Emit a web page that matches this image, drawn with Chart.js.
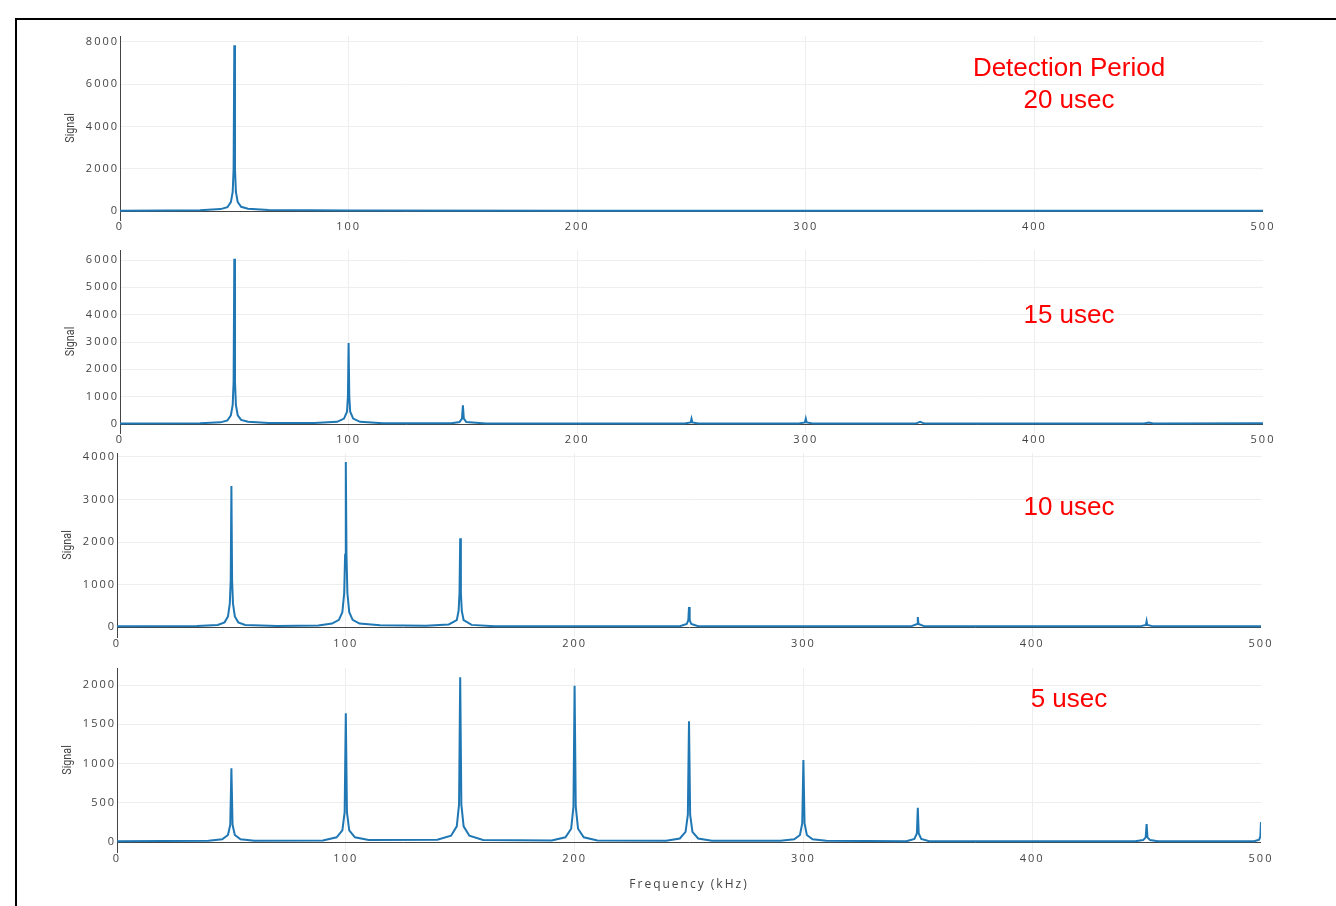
<!DOCTYPE html>
<html>
<head>
<meta charset="utf-8">
<script src="https://cdn.jsdelivr.net/npm/chart.js@4/dist/chart.umd.min.js"></script>
<style>
  body { margin: 0; background: #fff; width: 1336px; height: 906px; overflow: hidden; position: relative; }
  .frame { position: absolute; left: 15px; top: 18px; width: 1400px; height: 1000px; border-top: 2px solid #000; border-left: 2px solid #000; }
  canvas { position: absolute; }
  .note { position: absolute; left: 959px; width: 220px; text-align: center; color: #ff0000;
          font-family: "Liberation Sans", Arial, sans-serif; font-size: 26px; line-height: 32px; }
</style>
</head>
<body>
<div class="frame"></div>
<canvas id="p20"></canvas>
<canvas id="p15"></canvas>
<canvas id="p10"></canvas>
<canvas id="p5"></canvas>
<div class="note" style="top:51px">Detection Period<br>20 usec</div>
<div class="note" style="top:298px">15 usec</div>
<div class="note" style="top:490px">10 usec</div>
<div class="note" style="top:682px">5 usec</div>
<script>
// x axis ticks (kHz)
const freqTicks = [0, 100, 200, 300, 400, 500];

// Detection period 20 usec
const freq20 = [0, 20, 35, 44, 47, 48.5, 49.3, 49.7, 50, 50.3, 50.7, 51.5, 53, 56, 65, 100, 200, 300, 400, 500];
const sig20  = [15, 20, 40, 90, 180, 420, 900, 2000, 7850, 2000, 900, 420, 200, 110, 50, 25, 15, 15, 15, 15];
const ticks20 = [0, 2000, 4000, 6000, 8000];

// 15 usec
const freq15 = [0, 35, 44, 47, 48.5, 49.3, 49.7, 50, 50.3, 50.7, 51.5, 53, 56, 65, 85, 95, 98, 99.3, 99.7, 100, 100.3, 100.7, 102, 105, 115,
  145, 148.5, 149.6, 150, 150.4, 151.5, 160, 247, 249.6, 250, 250.4, 253, 297, 299.6, 300, 300.4, 303,
  348, 350, 352, 448, 450, 452, 500];
const sig15  = [20, 30, 60, 130, 320, 700, 1550, 6050, 1550, 700, 320, 150, 80, 40, 40, 80, 200, 450, 1000, 2960, 1000, 450, 200, 80, 30,
  30, 70, 200, 680, 200, 70, 20, 20, 60, 200, 60, 20, 20, 60, 200, 60, 20,
  15, 80, 15, 15, 50, 15, 25];
const ticks15 = [0, 1000, 2000, 3000, 4000, 5000, 6000];

// 10 usec
const freq10 = [0, 35, 44, 47, 48.5, 49.3, 49.7, 50, 50.3, 50.7, 51.5, 53, 56, 70, 88, 94, 97, 98.5, 99.3, 99.7, 100, 100.3, 100.7, 101.5, 103, 106, 115,
  135, 145, 148.5, 149.3, 149.7, 150, 150.3, 150.7, 151.5, 155, 165, 246, 249, 249.7, 250, 250.3, 251, 254,
  347, 349.7, 350, 350.3, 353, 447, 449.7, 450, 450.3, 453, 500];
const sig10  = [15, 25, 50, 110, 250, 550, 1100, 3320, 1100, 550, 250, 110, 50, 25, 35, 80, 170, 350, 800, 1700, 3880, 1700, 800, 350, 170, 80, 40,
  30, 60, 160, 380, 800, 2090, 800, 380, 160, 50, 20, 20, 70, 160, 470, 160, 70, 20,
  15, 70, 235, 70, 15, 15, 50, 140, 50, 15, 15];
const ticks10 = [0, 1000, 2000, 3000, 4000];

// 5 usec
const freq5 = [0, 40, 46, 48.5, 49.5, 50, 50.5, 51.5, 54, 60, 90, 96, 98.5, 99.5, 100, 100.5, 101.5, 104, 110,
  140, 146, 148.5, 149.5, 150, 150.5, 151.5, 154, 160, 190, 196, 198.5, 199.5, 200, 200.5, 201.5, 204, 210,
  240, 246, 248.5, 249.5, 250, 250.5, 251.5, 254, 260, 290, 296, 298.5, 299.5, 300, 300.5, 301.5, 304, 310,
  345, 348.5, 349.6, 350, 350.4, 351.5, 355, 445, 448.5, 449.6, 450, 450.4, 451.5, 455, 497, 499.2, 499.7, 500];
const sig5  = [10, 15, 35, 90, 220, 940, 220, 90, 35, 15, 20, 60, 150, 380, 1640, 380, 150, 60, 25,
  30, 80, 200, 480, 2100, 480, 200, 80, 25, 20, 60, 170, 450, 1990, 450, 170, 60, 20,
  15, 45, 130, 350, 1540, 350, 130, 45, 15, 15, 35, 90, 240, 1045, 240, 90, 35, 15,
  10, 40, 110, 435, 110, 40, 10, 10, 25, 60, 230, 60, 25, 10, 10, 30, 70, 255];
const ticks5 = [0, 500, 1000, 1500, 2000];

const tickFont = { family: "'Open Sans', 'DejaVu Sans', sans-serif", size: 11 };
const yAxisW = 57;

// wide spaced tick text like the original, plus a narrow rotated "Signal" label
const textStyle = {
  id: 'textStyle',
  beforeUpdate(chart) { chart.ctx.letterSpacing = '2px'; },
  beforeDraw(chart) { chart.ctx.letterSpacing = '2px'; },
  afterDraw(chart) {
    const ctx = chart.ctx, a = chart.chartArea, ys = chart.scales.y;
    ctx.save();
    ctx.letterSpacing = '0px';
    ctx.translate(ys.left + 8, (a.top + a.bottom) / 2);
    ctx.rotate(-Math.PI / 2);
    ctx.scale(0.83, 1);
    ctx.font = "13px Roboto, 'DejaVu Sans', sans-serif";
    ctx.fillStyle = '#444';
    ctx.textAlign = 'center';
    ctx.textBaseline = 'middle';
    ctx.fillText('Signal', 0, 0);
    ctx.restore();
  }
};

function makePanel(id, freq, sig, yTicks, box) {
  const xAxisH = box.xTitle ? 45 : 20;
  const left = box.plotLeft - yAxisW;
  const top = box.plotTop - 10;
  const w = box.plotRight + 30 - left;
  const h = box.plotBottom + xAxisH - top;
  const cv = document.getElementById(id);
  cv.width = w; cv.height = h;
  cv.style.left = left + 'px'; cv.style.top = top + 'px';
  cv.style.width = w + 'px'; cv.style.height = h + 'px';

  new Chart(cv, {
    type: 'line',
    data: {
      datasets: [{
        data: freq.map((f, i) => ({ x: f, y: sig[i] })),
        borderColor: '#1f77b4',
        borderWidth: 2,
        pointRadius: 0,
        tension: 0,
        fill: false
      }]
    },
    options: {
      responsive: false,
      animation: false,
      layout: { padding: { top: 10, right: 30, left: 0, bottom: 0 } },
      plugins: { legend: { display: false }, tooltip: { enabled: false } },
      scales: {
        x: {
          type: 'linear', min: 0, max: 500,
          afterBuildTicks: s => { s.ticks = freqTicks.map(v => ({ value: v })); },
          afterFit: s => { s.height = xAxisH; },
          border: { display: false },
          grid: {
            drawTicks: false,
            color: c => (c.tick.value === 0 || c.tick.value === 500) ? 'rgba(0,0,0,0)' : '#eeeeee'
          },
          ticks: { color: '#444', font: tickFont, padding: 0, maxRotation: 0, autoSkip: false,
                   callback: v => String(v) },
          title: {
            display: !!box.xTitle, text: 'Frequency (kHz)', color: '#444',
            font: { family: "'Open Sans', 'DejaVu Sans', sans-serif", size: 12 },
            padding: { top: 0, bottom: 5 }
          }
        },
        y: {
          min: box.yMin, max: box.yMax,
          afterBuildTicks: s => { s.ticks = yTicks.map(v => ({ value: v })); },
          afterFit: s => { s.width = yAxisW; },
          border: { display: true, color: '#444', width: 1 },
          grid: {
            drawTicks: false,
            color: c => c.tick.value === 0 ? '#444' : '#eeeeee'
          },
          ticks: { color: '#444', font: tickFont, padding: 1, callback: v => String(v) },
          title: { display: false }
        }
      }
    },
    plugins: [textStyle]
  });
}

makePanel('p20', freq20, sig20, ticks20, { plotLeft: 120, plotRight: 1263, plotTop: 36, plotBottom: 220, yMin: -426, yMax: 8284 });
makePanel('p15', freq15, sig15, ticks15, { plotLeft: 120, plotRight: 1263, plotTop: 250, plotBottom: 433, yMin: -329, yMax: 6366 });
makePanel('p10', freq10, sig10, ticks10, { plotLeft: 117, plotRight: 1261, plotTop: 453, plotBottom: 637, yMin: -235, yMax: 4094 });
makePanel('p5', freq5, sig5, ticks5, { plotLeft: 117, plotRight: 1261, plotTop: 668, plotBottom: 852, yMin: -127, yMax: 2217, xTitle: true });
</script>
</body>
</html>
